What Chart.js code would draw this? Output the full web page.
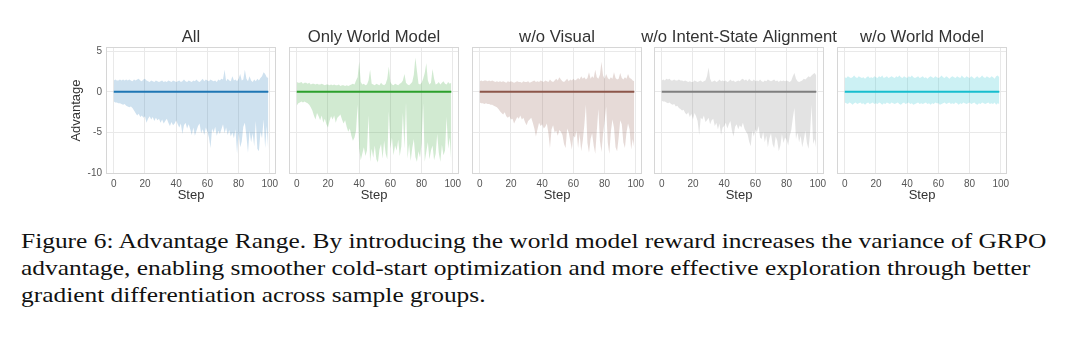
<!DOCTYPE html>
<html>
<head>
<meta charset="utf-8">
<script src="https://cdn.jsdelivr.net/npm/chart.js@4.4.0/dist/chart.umd.min.js"></script>
<style>
  html, body { margin: 0; padding: 0; background: #fff; width: 1080px; height: 341px; overflow: hidden; }
  .panel { position: absolute; top: 20px; width: 270px; height: 190px; }
  #caption {
    position: absolute; left: 21px; top: 227px;
    font-family: "Liberation Serif", "Times New Roman", serif;
    font-size: 22px; line-height: 27px; color: #111; white-space: nowrap;
    transform: scaleX(1.155); transform-origin: 0 0;
  }
</style>
</head>
<body>
<div id="caption"></div>
<script>
// x axis: training steps
const steps = Array.from({ length: 100 }, (_, i) => i);
const xTicks = [0, 20, 40, 60, 80, 100];
const yTicks = [-10, -5, 0, 5];

const panelTitles = ['All', 'Only World Model', 'w/o Visual', 'w/o Intent-State Alignment', 'w/o World Model'];
const panelColors = ['31,119,180', '44,160,44', '140,86,75', '127,127,127', '23,190,207'];

const captionLines = [
  'Figure 6: Advantage Range. By introducing the world model reward increases the variance of GRPO',
  'advantage, enabling smoother cold-start optimization and more effective exploration through better',
  'gradient differentiation across sample groups.'
];

// mean advantage (GRPO advantage is centered on 0)
const meanAdv = [
  0, 0, 0, 0, 0, 0, 0, 0, 0, 0,
  0, 0, 0, 0, 0, 0, 0, 0, 0, 0,
  0, 0, 0, 0, 0, 0, 0, 0, 0, 0,
  0, 0, 0, 0, 0, 0, 0, 0, 0, 0,
  0, 0, 0, 0, 0, 0, 0, 0, 0, 0,
  0, 0, 0, 0, 0, 0, 0, 0, 0, 0,
  0, 0, 0, 0, 0, 0, 0, 0, 0, 0,
  0, 0, 0, 0, 0, 0, 0, 0, 0, 0,
  0, 0, 0, 0, 0, 0, 0, 0, 0, 0,
  0, 0, 0, 0, 0, 0, 0, 0, 0, 0
];

// All
const allUpper = [
  1.4, 1.5, 1.4, 1.4, 1.5, 1.4, 1.5, 1.4, 1.5, 1.4,
  1.5, 1.4, 1.3, 1.5, 1.4, 1.5, 1.6, 1.4, 1.3, 1.5,
  1.6, 1.4, 1.3, 1.2, 1.4, 1.3, 1.2, 1.4, 1.3, 1.2,
  1.3, 1.4, 1.2, 1.3, 1.2, 1.4, 1.3, 1.2, 1.4, 1.3,
  1.2, 1.3, 1.4, 1.2, 1.3, 1.5, 1.3, 1.2, 1.4, 1.3,
  1.2, 1.4, 1.3, 1.5, 1.3, 1.2, 1.4, 1.6, 1.3, 1.5,
  1.4, 1.3, 1.5, 1.4, 1.3, 1.4, 1.2, 1.5, 1.4, 1.6,
  1.5, 2.7, 1.3, 1.6, 1.4, 1.3, 1.9, 1.4, 1.5, 1.3,
  1.6, 2.2, 1.4, 1.5, 2.7, 1.6, 1.3, 1.9, 1.4, 1.2,
  1.5, 1.3, 1.6, 1.4, 1.7, 1.9, 2.4, 2.2, 1.8, 1.7
];
const allLower = [
  -1.2, -1.3, -1.3, -1.4, -1.4, -1.5, -1.6, -1.5, -1.7, -1.8,
  -1.9, -1.8, -2.0, -2.3, -2.6, -2.9, -2.7, -3.1, -2.9, -3.2,
  -3.0, -3.8, -3.3, -3.0, -3.4, -3.1, -3.6, -3.2, -3.5, -3.3,
  -3.8, -3.4, -3.9, -3.6, -3.3, -3.8, -4.2, -3.7, -4.1, -3.9,
  -3.5, -4.0, -4.4, -3.9, -5.2, -4.1, -3.8, -4.5, -4.0, -4.6,
  -5.3, -4.4, -5.4, -4.8, -4.2, -3.9, -5.1, -4.6, -5.3, -4.4,
  -4.9, -5.6, -6.9, -4.5, -5.0, -4.3, -5.4, -4.8, -5.2, -4.6,
  -4.0, -5.1, -4.4, -5.3, -4.7, -5.5, -5.0, -5.7, -4.6, -7.6,
  -5.0, -6.8, -6.1, -4.3, -3.8, -5.4, -7.5, -4.8, -6.2, -5.1,
  -6.7, -3.6, -7.0, -7.3, -4.9, -5.7, -3.4, -6.9, -4.2, -7.2
];

// Only World Model
const owmUpper = [
  1.2, 1.1, 1.1, 1.2, 1.0, 1.1, 1.1, 1.0, 1.1, 0.9,
  1.0, 1.0, 0.9, 1.0, 0.9, 0.9, 1.0, 0.9, 0.8, 0.9,
  0.9, 0.8, 0.9, 0.8, 0.9, 0.8, 0.8, 0.9, 0.7, 0.8,
  0.8, 0.7, 0.8, 0.7, 0.8, 0.9, 1.0, 0.9, 1.4, 1.8,
  3.7, 1.2, 0.9, 1.0, 0.8, 0.9, 1.4, 2.7, 1.0, 0.9,
  0.8, 1.0, 0.9, 0.8, 1.1, 0.9, 0.8, 1.0, 1.6, 3.1,
  1.2, 0.9, 0.8, 1.0, 0.9, 0.8, 1.0, 1.1, 1.4, 2.2,
  1.1, 0.9, 0.8, 1.0, 1.2, 2.1, 4.2, 2.6, 1.0, 0.9,
  1.1, 1.6, 2.3, 3.5, 1.4, 0.9, 1.1, 2.8, 1.6, 0.9,
  1.0, 1.2, 0.9, 1.1, 1.3, 1.0, 0.9, 1.2, 1.0, 1.1
];
const owmLower = [
  -1.7, -1.4, -1.3, -1.2, -1.3, -1.2, -1.3, -1.4, -1.6, -1.9,
  -2.3, -2.9, -3.4, -2.6, -3.0, -3.5, -2.9, -3.8, -3.3, -4.0,
  -4.4, -3.6, -3.0, -3.4, -2.9, -3.8, -3.2, -3.0, -2.8, -3.4,
  -3.9, -3.5, -4.3, -4.9, -4.5, -5.4, -6.0, -5.6, -4.8, -1.6,
  -6.9, -8.4, -7.6, -6.8, -7.9, -7.2, -2.9, -8.6, -7.0, -8.1,
  -6.6, -8.3, -8.7, -7.1, -6.4, -8.2, -6.0, -7.6, -8.3, -2.4,
  -7.0, -5.6, -7.8, -6.6, -7.2, -5.9, -7.9, -6.7, -2.6, -7.0,
  -1.3, -8.2, -6.4, -8.5, -6.9, -5.8, -8.0, -8.6, -7.3, -8.1,
  -6.3, -1.4, -8.6, -7.4, -6.2, -8.3, -7.2, -6.6, -8.4, -7.6,
  -5.2, -7.5, -8.6, -6.5, -7.8, -7.2, -3.1, -7.0, -5.6, -8.6
];

// w/o Visual
const noVisUpper = [
  1.3, 1.4, 1.3, 1.4, 1.4, 1.3, 1.4, 1.3, 1.4, 1.3,
  1.2, 1.3, 1.2, 1.3, 1.2, 1.3, 1.2, 1.1, 1.3, 1.2,
  1.3, 1.2, 1.1, 1.2, 1.3, 1.2, 1.2, 1.1, 1.3, 1.2,
  1.2, 1.3, 1.1, 1.2, 1.3, 1.4, 1.2, 1.3, 1.2, 1.4,
  1.3, 1.2, 1.4, 1.3, 1.2, 1.5, 1.3, 1.2, 1.4, 1.6,
  1.4, 1.8, 1.5, 1.3, 1.2, 1.4, 1.6, 1.3, 1.5, 1.4,
  1.6, 1.4, 1.5, 1.7, 1.5, 1.9, 1.6, 1.8, 1.5, 1.7,
  2.4, 1.6, 1.9, 1.7, 2.7, 1.8, 1.6, 2.1, 3.7, 2.0,
  1.6, 2.2, 1.7, 1.5, 1.8, 1.6, 2.4, 1.7, 1.5, 1.6,
  2.3, 1.7, 1.5, 1.8, 1.6, 2.2, 1.7, 1.6, 1.4, 1.3
];
const noVisLower = [
  -1.3, -1.4, -1.4, -1.5, -1.4, -1.5, -1.5, -1.6, -1.6, -1.7,
  -1.8, -1.9, -2.1, -2.4, -2.6, -2.8, -2.5, -3.0, -3.2, -3.0,
  -3.4, -3.3, -3.9, -3.5, -3.1, -3.3, -2.9, -3.4, -3.2, -3.7,
  -4.1, -3.6, -3.4, -3.2, -3.8, -4.5, -5.5, -4.6, -3.8, -4.2,
  -4.0, -4.5, -4.3, -3.9, -5.1, -6.9, -4.6, -4.1, -5.0, -4.8,
  -5.4, -4.7, -4.9, -5.3, -6.4, -6.9, -4.5, -5.0, -6.0, -7.1,
  -5.4, -5.6, -4.8, -6.9, -5.2, -7.3, -6.0, -4.1, -1.6, -6.3,
  -7.5, -5.8, -5.1, -6.6, -7.6, -4.8, -2.1, -6.0, -7.4, -5.2,
  -3.6, -1.8, -6.2, -7.6, -4.9, -3.4, -4.4, -6.8, -7.3, -5.6,
  -3.5, -4.0, -6.2, -6.9, -5.0, -3.9, -4.6, -7.1, -5.8, -6.9
];

// w/o Intent-State Alignment
const noIsaUpper = [
  1.4, 1.5, 1.4, 1.6, 1.5, 1.6, 1.4, 1.4, 1.5, 1.4,
  1.4, 1.5, 1.4, 1.4, 1.3, 1.4, 1.3, 1.2, 1.3, 1.2,
  1.2, 1.4, 1.3, 1.2, 1.3, 1.4, 1.2, 1.3, 1.4, 1.9,
  3.0, 1.6, 1.2, 1.3, 1.4, 1.2, 1.3, 1.5, 1.3, 1.4,
  1.3, 1.4, 1.2, 1.3, 1.5, 1.3, 1.4, 1.2, 1.3, 1.4,
  1.3, 1.5, 1.6, 1.4, 1.5, 1.3, 1.6, 1.4, 1.3, 1.5,
  1.3, 1.4, 1.3, 1.5, 1.3, 1.2, 1.4, 1.3, 1.5, 1.4,
  1.3, 1.4, 1.5, 1.3, 1.4, 1.2, 1.4, 1.3, 1.4, 1.3,
  1.4, 1.3, 1.2, 1.4, 1.9, 2.3, 1.6, 1.3, 1.2, 1.3,
  1.4, 1.6, 1.5, 1.7, 1.9, 1.8, 2.0, 2.2, 2.3, 2.0
];
const noIsaLower = [
  -1.1, -1.2, -1.2, -1.3, -1.4, -1.3, -1.5, -1.6, -1.5, -1.8,
  -1.7, -2.0, -2.1, -2.3, -2.2, -2.6, -2.8, -2.5, -3.1, -2.7,
  -3.4, -2.6, -3.0, -3.6, -5.3, -3.2, -3.4, -2.9, -3.7, -3.5,
  -3.2, -4.0, -3.5, -3.3, -4.2, -3.8, -4.6, -3.9, -5.3, -4.4,
  -4.2, -3.8, -4.5, -4.0, -3.6, -4.8, -5.5, -4.3, -4.0, -4.6,
  -4.1, -4.4, -3.8, -4.5, -4.9, -5.2, -6.1, -6.7, -4.8, -5.5,
  -4.6, -5.0, -4.2, -5.6, -5.8, -4.9, -6.2, -5.4, -6.8, -5.7,
  -5.1, -6.4, -6.9, -5.5, -6.0, -7.3, -6.6, -5.2, -6.3, -5.6,
  -5.9, -6.6, -5.4, -4.7, -3.2, -2.0, -5.8, -5.0, -6.2, -5.4,
  -6.8, -5.9, -4.8, -6.3, -7.0, -5.2, -1.6, -6.4, -5.8, -7.0
];

// w/o World Model
const noWmUpper = [
  1.8, 1.7, 1.9, 1.8, 1.7, 1.8, 2.0, 1.8, 1.7, 1.9,
  1.8, 1.7, 1.8, 1.6, 1.8, 1.9, 1.7, 1.8, 1.7, 1.9,
  1.8, 1.7, 1.9, 1.8, 2.0, 1.7, 1.8, 1.9, 1.7, 1.8,
  1.9, 1.8, 1.7, 1.9, 1.8, 2.0, 1.8, 1.7, 1.9, 1.8,
  1.7, 1.9, 1.8, 2.0, 1.8, 1.7, 1.8, 1.9, 1.7, 1.8,
  1.9, 1.7, 1.8, 1.6, 1.8, 1.9, 1.8, 1.7, 1.9, 1.8,
  1.7, 1.8, 2.0, 1.8, 1.7, 1.9, 1.8, 1.6, 1.8, 1.9,
  1.8, 1.7, 1.9, 1.8, 1.7, 2.0, 1.8, 1.7, 1.9, 1.8,
  1.7, 1.9, 1.8, 1.6, 1.8, 1.9, 1.7, 1.8, 2.0, 1.8,
  1.7, 1.9, 1.8, 1.7, 1.9, 1.8, 1.6, 1.9, 2.0, 1.8
];
const noWmLower = [
  -1.3, -1.4, -1.5, -1.3, -1.4, -1.6, -1.4, -1.3, -1.5, -1.4,
  -1.3, -1.5, -1.4, -1.6, -1.4, -1.3, -1.5, -1.4, -1.3, -1.5,
  -1.4, -1.5, -1.3, -1.4, -1.6, -1.4, -1.5, -1.3, -1.4, -1.5,
  -1.3, -1.4, -1.5, -1.4, -1.3, -1.5, -1.6, -1.4, -1.3, -1.5,
  -1.4, -1.3, -1.5, -1.4, -1.6, -1.5, -1.4, -1.3, -1.5, -1.4,
  -1.5, -1.4, -1.3, -1.5, -1.4, -1.6, -1.4, -1.5, -1.3, -1.4,
  -1.4, -1.6, -1.5, -1.4, -1.3, -1.5, -1.4, -1.3, -1.5, -1.4,
  -1.5, -1.3, -1.4, -1.6, -1.4, -1.5, -1.3, -1.4, -1.5, -1.4,
  -1.3, -1.5, -1.4, -1.3, -1.5, -1.6, -1.4, -1.5, -1.3, -1.4,
  -1.5, -1.4, -1.3, -1.5, -1.4, -1.5, -1.3, -1.6, -1.4, -1.5
];

const panelUpper = [allUpper, owmUpper, noVisUpper, noIsaUpper, noWmUpper];
const panelLower = [allLower, owmLower, noVisLower, noIsaLower, noWmLower];

// layout
const plotLeft = [106, 289, 472, 654, 837];
const sideRoom = 50;
const sansFont = '"Liberation Sans", Arial, sans-serif';

document.getElementById('caption').innerHTML = captionLines.join('<br>');

// light frame around every plot area (all four spines)
const frame = {
  id: 'frame',
  afterDraw(chart) {
    const a = chart.chartArea;
    const ctx = chart.ctx;
    ctx.save();
    ctx.strokeStyle = '#d6d6d6';
    ctx.lineWidth = 1;
    ctx.strokeRect(Math.round(a.left) + 0.5, Math.round(a.top) + 0.5, Math.round(a.width) - 1, Math.round(a.height) - 1);
    ctx.restore();
  }
};

const toPoints = (vals) => vals.map((v, i) => ({ x: steps[i], y: v }));

panelTitles.forEach(function (title, i) {
  const wrap = document.createElement('div');
  wrap.className = 'panel';
  wrap.style.left = (plotLeft[i] - sideRoom) + 'px';
  const canvas = document.createElement('canvas');
  canvas.width = 270;
  canvas.height = 190;
  wrap.appendChild(canvas);
  document.body.appendChild(wrap);

  const c = panelColors[i];
  const first = i === 0;

  new Chart(canvas, {
    type: 'line',
    data: {
      datasets: [
        {
          label: 'min',
          data: toPoints(panelLower[i]),
          borderWidth: 0,
          pointRadius: 0,
          fill: false,
        },
        {
          label: 'max',
          data: toPoints(panelUpper[i]),
          borderWidth: 0,
          pointRadius: 0,
          fill: '-1',
          backgroundColor: `rgba(${c},0.22)`,
        },
        {
          label: 'mean',
          data: toPoints(meanAdv),
          borderColor: `rgb(${c})`,
          borderWidth: 2,
          pointRadius: 0,
          fill: false,
        },
      ],
    },
    options: {
      responsive: false,
      animation: false,
      plugins: {
        legend: { display: false },
        tooltip: { enabled: false },
        title: {
          display: true,
          text: title,
          color: '#333',
          font: { family: sansFont, size: 16.7, weight: 'normal' },
          padding: { top: 7, bottom: 0 },
        },
      },
      scales: {
        x: {
          type: 'linear',
          min: -4.95,
          max: 103.95,
          afterFit: (s) => { s.height = 36; },
          afterBuildTicks: (s) => { s.ticks = xTicks.map((v) => ({ value: v })); },
          grid: { color: '#e9e9e9', drawTicks: false },
          border: { display: false },
          ticks: {
            color: '#555',
            font: { family: sansFont, size: 10 },
            padding: 4,
            maxRotation: 0,
            autoSkip: false,
          },
          title: {
            display: true,
            text: 'Step',
            color: '#333',
            font: { family: sansFont, size: 13 },
            padding: { top: 0, bottom: 7 },
          },
        },
        y: {
          min: -10.1,
          max: 5.5,
          afterFit: (s) => { s.width = sideRoom; },
          afterBuildTicks: (s) => { s.ticks = yTicks.map((v) => ({ value: v })); },
          grid: { color: '#e9e9e9', drawTicks: false },
          border: { display: false },
          ticks: {
            display: first,
            color: '#555',
            font: { family: sansFont, size: 10 },
            padding: 4,
          },
          title: {
            display: first,
            text: 'Advantage',
            color: '#333',
            font: { family: sansFont, size: 13 },
            padding: { top: 13, bottom: 0 },
          },
        },
        // empty right-hand box so the title centres on the plot
        yRight: {
          position: 'right',
          min: -10.1,
          max: 5.5,
          afterFit: (s) => { s.width = sideRoom; },
          grid: { display: false },
          border: { display: false },
          ticks: { display: false },
        },
      },
    },
    plugins: [frame],
  });
});
</script>
</body>
</html>
